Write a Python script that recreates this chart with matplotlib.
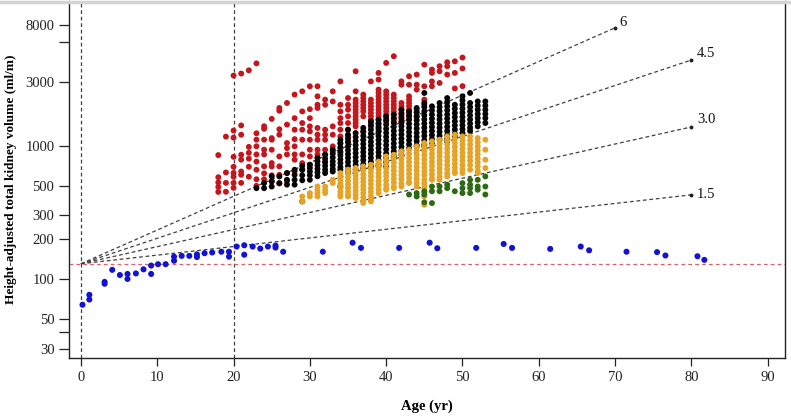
import numpy as np
import matplotlib
matplotlib.use("Agg")
import matplotlib.pyplot as plt
from matplotlib.lines import Line2D

# ---- data (age in yr, volume in ml/m) ----
red_pts = {
    18: [450, 490, 530, 580, 850],
    19: [451, 526, 630, 1170],
    20: [483, 526, 585, 625, 695, 825, 1150, 1300, 3360],
    21: [526, 605, 640, 785, 855, 1210, 1420, 3480],
    22: [585, 695, 800, 885, 980, 3680],
    23: [500, 560, 660, 760, 860, 990, 1110, 1240, 4150],
    24: [560, 620, 700, 860, 933, 1110, 1340, 1400],
    25: [540, 600, 699, 741, 933, 1110, 1140, 1590],
    26: [520, 605, 700, 831, 1210, 1330, 1830, 1920],
    27: [540, 623, 860, 960, 1047, 1440, 2093],
    28: [640, 785, 860, 989, 1120, 1319, 1610, 2420],
    29: [660, 740, 860, 1109, 1319, 1480, 1810, 2560],
    30: [720, 831, 933, 1109, 1280, 1397, 1610, 1880, 2793],
    31: [810, 860, 933, 1109, 1210, 1360, 1920, 2030, 2349, 2793],
    32: [760, 860, 933, 1109, 1210, 1319, 2030, 2218],
    33: [907, 989, 1210, 1397, 2150, 2560],
    34: [880, 960, 1047, 1175, 1319, 1480, 1610, 1810, 2030, 3040],
    35: [1078, 1175, 1319, 1480, 1662, 1865, 2030, 2280],
    36: [1397, 1480, 1568, 1662, 1760, 1865, 1976, 2093, 2218, 2560, 3620],
    37: [1280, 1662, 1810, 1920, 2030, 2150, 2280, 2420],
    38: [1397, 1480, 1568, 1662, 1760, 1865, 1976, 2093, 2218, 3040],
    39: [1319, 1397, 1480, 1568, 1662, 1760, 1865, 1976, 2093, 2218, 2349,
         2489, 2637, 3135, 3519],
    40: [1520, 1610, 1710, 1810, 1920, 2030, 2150, 2280, 2420, 2560, 4184],
    41: [1520, 1610, 1710, 1810, 1920, 2030, 2150, 2280, 2420, 4695],
    42: [1480, 1568, 1662, 1760, 1865, 1976, 2093, 2870, 3040],
    43: [1568, 1662, 1760, 1865, 1976, 2093, 2218, 2349, 2870, 3321],
    44: [1640, 1760, 1865, 2637, 2870, 3420],
    45: [2030, 2218, 2793, 4060],
    46: [2793, 3040, 3519, 3728],
    47: [2959, 3620, 3950],
    48: [3420, 3950, 4230],
    49: [2690, 3519, 4300],
    50: [2800, 3800, 4590],
}

black_pts = {
    23: [480],
    24: [480, 524],
    25: [494, 540, 588],
    26: [524, 588],
    27: [510, 555, 623],
    28: [510, 555, 605, 660],
    29: [382, 550, 600, 660, 705],
    30: [555, 600, 640, 680, 720],
    31: [590, 630, 670, 715, 760, 810],
    32: [623, 660, 705, 750, 800, 855],
    33: [640, 670, 715, 760, 815, 870, 933],
    34: [494, 660, 690, 740, 790, 845, 905, 970, 1040, 1109],
    35: [623, 660, 705, 755, 810, 865, 925, 990, 1060, 1130, 1210, 1319],
    36: [660, 715, 765, 820, 880, 945, 1010, 1085, 1160, 1245],
    37: [680, 725, 780, 835, 895, 960, 1030, 1105, 1185, 1270, 1360],
    38: [680, 705, 755, 810, 870, 930, 1000, 1070, 1150, 1230, 1320, 1420, 1520],
    39: [699, 725, 780, 835, 895, 960, 1030, 1105, 1185, 1270, 1360, 1460, 1568],
    40: [699, 760, 815, 875, 940, 1010, 1085, 1165, 1250, 1340, 1440, 1550, 1662],
    41: [810, 845, 905, 970, 1040, 1120, 1200, 1290, 1385, 1485, 1595, 1710],
    42: [855, 915, 980, 1055, 1130, 1215, 1305, 1400, 1505, 1615, 1735, 1865],
    43: [955, 1025, 1100, 1180, 1265, 1360, 1460, 1570, 1685, 1810],
    44: [989, 1010, 1085, 1165, 1250, 1345, 1445, 1550, 1665, 1790, 1920],
    45: [989, 1025, 1100, 1185, 1270, 1365, 1465, 1575, 1690, 1815, 1950, 2093, 2489],
    46: [1047, 1120, 1200, 1290, 1385, 1485, 1595, 1715, 1840, 1976],
    47: [1109, 1185, 1270, 1365, 1465, 1575, 1690, 1815, 1950, 2093],
    48: [1078, 1120, 1200, 1290, 1385, 1490, 1600, 1715, 1845, 1980, 2125, 2280],
    49: [1175, 1230, 1320, 1420, 1525, 1640, 1760, 1890, 2030],
    50: [1245, 1330, 1425, 1530, 1645, 1770, 1900, 2040, 2190, 2349],
    51: [1290, 1365, 1465, 1575, 1690, 1815, 1950, 2093, 2489],
    52: [1397, 1500, 1610, 1730, 1860, 2000, 2150],
    53: [1480, 1610, 1730, 1860, 2000, 2150],
}

orange_pts = {
    29: [382, 416],
    30: [416, 441],
    31: [416, 440, 465, 494],
    32: [441, 465, 494],
    33: [524, 555],
    34: [416, 430, 455, 485, 515, 550, 585, 623],
    35: [416, 425, 450, 480, 510, 545, 580, 620, 660],
    36: [405, 430, 460, 490, 525, 560, 600, 640, 680],
    37: [371, 385, 410, 440, 470, 500, 535, 570, 610, 655, 699],
    38: [382, 393, 420, 450, 480, 515, 550, 590, 630, 675, 720],
    39: [441, 470, 505, 540, 580, 620, 665, 710, 760],
    40: [467, 480, 510, 550, 590, 630, 675, 725, 775, 831],
    41: [480, 495, 530, 565, 605, 650, 695, 745, 800, 855],
    42: [494, 520, 560, 600, 640, 685, 735, 790, 845, 907],
    43: [524, 535, 575, 615, 660, 705, 755, 810, 870, 933],
    44: [494, 525, 565, 605, 650, 695, 745, 800, 860, 920, 989],
    45: [360, 416, 450, 485, 520, 555, 600, 640, 685, 735, 790, 850, 910, 975, 1047],
    46: [555, 570, 610, 655, 705, 755, 810, 870, 935, 1005, 1078],
    47: [555, 585, 630, 675, 725, 775, 835, 895, 960, 1030, 1109],
    48: [588, 620, 665, 715, 770, 825, 885, 950, 1020, 1095, 1175],
    49: [623, 640, 685, 735, 790, 850, 910, 980, 1050, 1125, 1210],
    50: [623, 665, 715, 770, 825, 885, 950, 1020, 1095, 1175],
    51: [660, 715, 770, 825, 885, 950, 1020, 1095, 1175],
    52: [623, 645, 695, 745, 800, 860, 920, 990, 1060, 1140],
    53: [680, 785, 933, 1109],
}

green_pts = {
    43: [430],
    44: [416, 441],
    45: [376, 430, 455],
    46: [371, 455, 494],
    47: [455, 494],
    48: [480, 510],
    49: [455],
    50: [441, 480, 524],
    51: [441, 480, 510, 555],
    52: [467, 494, 555],
    53: [430, 494, 588],
}

blue_age = [0.2, 1.1, 1.1, 3.1, 3.1, 4.1, 5.1, 6.1, 6.1, 7.2, 8.2, 9.2, 9.2,
            10.1, 11.1, 12.2, 12.2, 13.2, 14.2, 15.2, 15.2, 16.2, 17.2, 18.4,
            19.4, 19.4, 20.4, 21.4, 21.4, 22.5, 23.5, 24.5, 25.5, 25.5, 26.5,
            31.7, 35.6, 36.7, 41.7, 45.7, 46.7, 51.8, 55.4, 56.5, 61.5, 65.5,
            66.6, 71.5, 75.5, 76.6, 80.8, 81.7]
blue_vol = [64, 76, 70, 95, 92, 117, 107, 109, 100, 110, 118, 126, 109,
            129, 129, 147, 137, 149, 149, 153, 146, 156, 158, 160,
            160, 147, 175, 179, 152, 175, 169, 175, 178, 172, 160,
            160, 187, 171, 171, 187, 170, 171, 183, 171, 168, 175,
            164, 160, 159, 150, 148, 139]

baseline = 130                       # ml/m at age 0
rates = ["6", "4.5", "3.0", "1.5"]   # % per year
rate_end_age = [70, 80, 80, 80]

yticks = [30, 50, 100, 200, 300, 500, 1000, 3000, 8000]
yticks_minor = [40, 6000]
xticks = [0, 10, 20, 30, 40, 50, 60, 70, 80, 90]


def flatten(d):
    xs, ys = [], []
    for age, vals in d.items():
        for v in vals:
            xs.append(age)
            ys.append(v)
    return xs, ys


plt.rcParams['font.family'] = ['Liberation Serif', 'DejaVu Serif']

fig = plt.figure(figsize=(7.91, 4.17), dpi=100)
ax = fig.add_axes([0.0872, 0.1415, 0.9052, 0.855])
ax.set_yscale('log')
ax.set_xlim(-1.57, 92.27)
ax.set_ylim(25.5, 12100)

# reference lines
dash = (0, (3, 2.2))
ax.axvline(0, color='#404040', lw=0.9, ls=dash, zorder=1)
ax.axvline(20, color='#404040', lw=0.9, ls=dash, zorder=1)
ax.axhline(baseline, color='#e0606e', lw=0.9, ls=(0, (3, 2.5)), zorder=1)

label_off = {"6": (3, 4), "4.5": (4, 5), "3.0": (4, 5), "1.5": (4, 0)}
for r, a_end in zip(rates, rate_end_age):
    g = 1 + float(r) / 100
    xs = [0, a_end]
    ys = [baseline, baseline * g ** a_end]
    ax.plot(xs, ys, color='#404040', lw=0.9, ls=dash, zorder=1)
    ax.plot([a_end], [ys[1]], 'o', ms=1.8, color='#202020', zorder=2)
    ax.annotate(r, (a_end, ys[1]), xytext=label_off[r], textcoords='offset points',
                ha='left', va='center', fontsize=10.5, color='#111111')

# scatter groups
for d, c in [(red_pts, '#c4161c'), (black_pts, '#050505'),
             (orange_pts, '#e5a426'), (green_pts, '#2c6a14')]:
    x, y = flatten(d)
    ax.scatter(x, y, s=18, color=c, edgecolors='none', zorder=3)
ax.scatter(blue_age, blue_vol, s=19, color='#1212d4', edgecolors='none', zorder=3)

ax.set_yticks(yticks)
ax.set_yticklabels([str(t) for t in yticks])
ax.set_yticks(yticks_minor, minor=True)
ax.yaxis.set_minor_formatter(matplotlib.ticker.NullFormatter())
ax.set_xticks(xticks)
ax.tick_params(axis='both', which='both', direction='out', length=6, width=0.9,
               colors='#222222', labelsize=10.5)
ax.tick_params(axis='y', which='both', length=7)

ax.set_xlabel('Age (yr)', fontsize=10.5, fontweight='bold', labelpad=11)
ax.set_ylabel('Height-adjusted total kidney volume (ml/m)', fontsize=9.5,
              fontweight='bold', labelpad=6)

for side in ['left', 'bottom', 'right']:
    ax.spines[side].set_color('#222222')
    ax.spines[side].set_linewidth(1.0)
ax.spines['top'].set_visible(False)

fig.add_artist(Line2D([0, 1], [0.996, 0.996], transform=fig.transFigure,
                      color='#d4d4d4', lw=2.5))

fig.savefig('out.png', dpi=100, facecolor='white')
